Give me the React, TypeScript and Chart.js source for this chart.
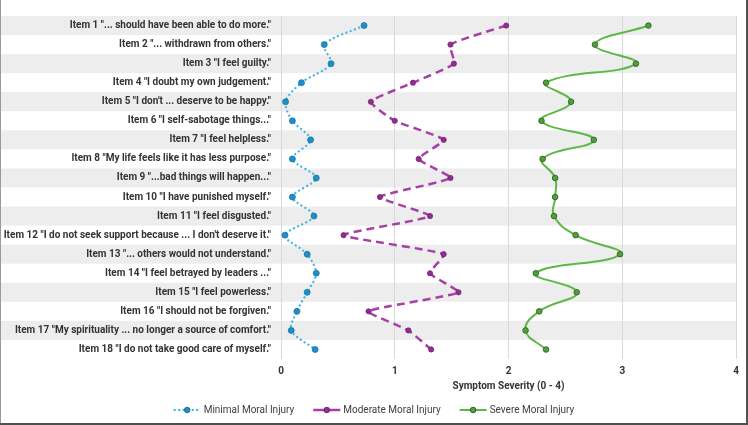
import React, { useEffect, useRef } from "react";
import { Chart, registerables } from "chart.js";

Chart.register(...registerables);

const items: string[] = [
  'Item 1 "... should have been able to do more."',
  'Item 2 "... withdrawn from others."',
  'Item 3 "I feel guilty."',
  'Item 4 "I doubt my own judgement."',
  'Item 5 "I don\'t ... deserve to be happy."',
  'Item 6 "I self-sabotage things..."',
  'Item 7 "I feel helpless."',
  'Item 8 "My life feels like it has less purpose."',
  'Item 9 "...bad things will happen..."',
  'Item 10 "I have punished myself."',
  'Item 11 "I feel disgusted."',
  'Item 12 "I do not seek support because ... I don\'t deserve it."',
  'Item 13 "... others would not understand."',
  'Item 14 "I feel betrayed by leaders ..."',
  'Item 15 "I feel powerless."',
  'Item 16 "I should not be forgiven."',
  'Item 17 "My spirituality ... no longer a source of comfort."',
  'Item 18 "I do not take good care of myself."',
];

const minimal: number[] = [0.73, 0.38, 0.44, 0.18, 0.04, 0.1, 0.26, 0.1, 0.31, 0.1, 0.29, 0.035, 0.23, 0.31, 0.23, 0.14, 0.09, 0.3];
const moderate: number[] = [1.98, 1.49, 1.52, 1.16, 0.79, 1.0, 1.43, 1.21, 1.49, 0.87, 1.31, 0.55, 1.43, 1.31, 1.56, 0.77, 1.12, 1.32];
const severe: number[] = [3.23, 2.76, 3.12, 2.33, 2.55, 2.29, 2.75, 2.3, 2.41, 2.41, 2.4, 2.59, 2.98, 2.24, 2.6, 2.27, 2.15, 2.33];

const xMin = 0;
const xMax = 4;
const xStep = 1;
const xTitle = "Symptom Severity (0 - 4)";
const seriesNames: string[] = ["Minimal Moral Injury", "Moderate Moral Injury", "Severe Moral Injury"];

const FONT = "Roboto, 'Open Sans', sans-serif";

const bandsPlugin = {
  id: "bands",
  beforeDraw(chart: any) {
    const { ctx, chartArea } = chart;
    const y = chart.scales.y;
    ctx.save();
    ctx.fillStyle = "#ffffff";
    ctx.fillRect(0, 0, chart.width, chart.height);
    const n = items.length;
    const h = (chartArea.bottom - chartArea.top) / n;
    for (let i = 0; i < n; i += 2) {
      const cy = y.getPixelForValue(i);
      ctx.fillStyle = "#EDEDED";
      ctx.fillRect(0, cy - h / 2, chartArea.right, h);
    }
    ctx.restore();
  },
  afterDraw(chart: any) {
    const { ctx } = chart;
    ctx.save();
    // legend
    ctx.font = `10px ${FONT}`;
    const symW = 27;
    const gapSym = 3;
    const gapItem = 19;
    const widths = seriesNames.map((s) => symW + gapSym + ctx.measureText(s).width);
    const total = widths.reduce((a, b) => a + b, 0) + gapItem * (seriesNames.length - 1);
    let x = chart.width / 2 - total / 2;
    const ly = 410;
    chart.data.datasets.forEach((ds: any, i: number) => {
      ctx.save();
      ctx.strokeStyle = ds.borderColor;
      ctx.lineWidth = ds.borderWidth;
      ctx.setLineDash(i === 0 ? [2, 2.5] : []);
      ctx.beginPath();
      ctx.moveTo(x, ly);
      ctx.lineTo(x + symW, ly);
      ctx.stroke();
      ctx.setLineDash([]);
      ctx.fillStyle = ds.pointBackgroundColor;
      ctx.strokeStyle = ds.pointBorderColor;
      ctx.lineWidth = 1;
      ctx.beginPath();
      ctx.arc(x + symW / 2, ly, 2.8, 0, Math.PI * 2);
      ctx.fill();
      ctx.stroke();
      ctx.restore();
      ctx.fillStyle = "#404040";
      ctx.textBaseline = "middle";
      ctx.textAlign = "left";
      ctx.fillText(seriesNames[i], x + symW + gapSym, ly);
      x += widths[i] + gapItem;
    });
    // frame
    ctx.fillStyle = "#9a9a9a";
    ctx.fillRect(0, 0, 1, chart.height);
    ctx.fillStyle = "#505050";
    ctx.fillRect(746, 0, 2, chart.height);
    ctx.fillRect(0, 423, chart.width, 2);
    ctx.restore();
  },
};

export default function App() {
  const ref = useRef<HTMLCanvasElement | null>(null);
  useEffect(() => {
    document.body.style.margin = "0";
    const canvas = ref.current!;
    const chart = new Chart(canvas, {
      type: "line",
      data: {
        labels: items,
        datasets: [
          {
            label: seriesNames[0],
            data: minimal,
            borderColor: "#3BB3E4",
            borderWidth: 2,
            borderDash: [2, 2.5],
            tension: 0.3,
            pointRadius: 3,
            pointBackgroundColor: "#1F8DC6",
            pointBorderColor: "#1A78A8",
            pointBorderWidth: 0.8,
          },
          {
            label: seriesNames[1],
            data: moderate,
            borderColor: "#A640A5",
            borderWidth: 2.5,
            borderDash: [8, 5],
            tension: 0.15,
            pointRadius: 2.6,
            pointBackgroundColor: "#8E2E8D",
            pointBorderColor: "#7A2479",
            pointBorderWidth: 0.8,
          },
          {
            label: seriesNames[2],
            data: severe,
            borderColor: "#5DB947",
            borderWidth: 2,
            tension: 0.45,
            pointRadius: 2.8,
            pointBackgroundColor: "#4FA23A",
            pointBorderColor: "#355E2B",
            pointBorderWidth: 0.9,
          },
        ],
      },
      options: {
        indexAxis: "y",
        responsive: false,
        animation: false,
        layout: { padding: { left: 0, right: 12, top: 8, bottom: 33 } },
        plugins: {
          legend: { display: false },
          tooltip: { enabled: false },
        },
        scales: {
          y: {
            type: "category",
            offset: true,
            grid: { display: false, drawTicks: false },
            border: { display: false },
            ticks: {
              padding: 10,
              autoSkip: false,
              font: { family: FONT, size: 10, weight: "bold" },
              color: "#333333",
            },
            afterFit(scale: any) {
              scale.width = 281;
            },
          },
          x: {
            type: "linear",
            min: xMin,
            max: xMax,
            grid: { color: "#D9D9D9", drawTicks: false, lineWidth: 1 },
            border: { display: false },
            ticks: {
              stepSize: xStep,
              padding: 6,
              font: { family: FONT, size: 10, weight: "bold" },
              color: "#333333",
            },
            title: {
              display: true,
              text: xTitle,
              padding: 0,
              font: { family: FONT, size: 10, weight: "bold" },
              color: "#333333",
            },
            afterFit(scale: any) {
              scale.height = 33;
            },
          },
        },
      } as any,
      plugins: [bandsPlugin],
    });
    return () => chart.destroy();
  }, []);
  return <canvas ref={ref} width={748} height={425} style={{ display: "block" }} />;
}
